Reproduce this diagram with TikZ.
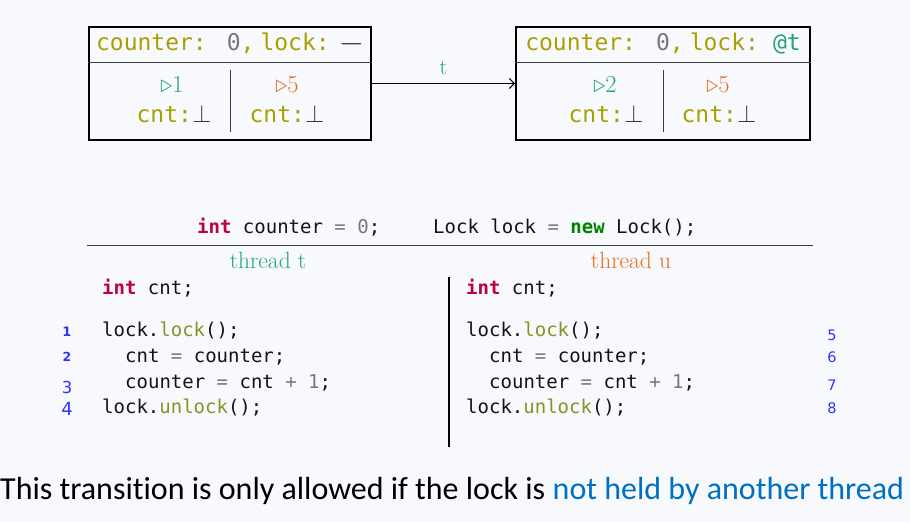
\documentclass[tikz,border=0pt]{standalone}
\usepackage{fontspec}
\setmonofont{DejaVu Sans Mono}
\newfontfamily\notefont[Ligatures=NoCommon]{Carlito}
\newfontfamily\numfont{DejaVu Sans}
\usetikzlibrary{positioning, arrows.meta}

\definecolor{PageBg}{RGB}{247,249,252}
\definecolor{MemText}{RGB}{168,160,0}
\definecolor{ThreadT}{RGB}{38,163,125}
\definecolor{ThreadU}{RGB}{230,110,30}
\definecolor{ValGray}{RGB}{120,120,120}
\definecolor{BotGray}{RGB}{60,60,60}
\definecolor{CodeText}{RGB}{20,20,20}
\definecolor{KeyRed}{RGB}{190,0,70}
\definecolor{KeyGreen}{RGB}{0,130,0}
\definecolor{MethodOlive}{RGB}{130,150,40}
\definecolor{LineBlue}{RGB}{50,50,255}
\definecolor{NoteBlue}{RGB}{0,112,192}

\newcommand{\kw}[1]{\textcolor{KeyRed}{\textbf{#1}}}
\newcommand{\newkw}[1]{\textcolor{KeyGreen}{\textbf{#1}}}
\newcommand{\op}[1]{\textcolor{ValGray}{#1}}
\newcommand{\meth}[1]{\textcolor{MethodOlive}{#1}}
\newcommand{\undef}{\textcolor{BotGray}{\fontsize{28}{30}\selectfont$\bot$}}

\tikzset{
    state box/.style={draw=black, line width=1.6pt, minimum height=113pt, inner sep=0pt},
    part line/.style={draw=BotGray, line width=0.9pt},
    mem text/.style={anchor=base, inner sep=0pt, text=MemText,
        font=\fontsize{23}{27}\selectfont\ttfamily},
    pc text/.style={anchor=base, inner sep=0pt, font=\fontsize{24.5}{28}\selectfont},
    code/.style={anchor=base west, inner sep=0pt, text=CodeText,
        font=\fontsize{19}{23}\selectfont\ttfamily},
    thread head/.style={anchor=base, inner sep=0pt, font=\fontsize{23.5}{27}\selectfont},
    line no/.style={anchor=base, inner sep=0pt, text=LineBlue}
}

\begin{document}
\begin{tikzpicture}[x=1pt, y=-1pt]

% Fondo
\fill[PageBg] (0,0) rectangle (910,522);
\useasboundingbox (0,0) rectangle (910,522);

% Estados
\node[state box, minimum width=282pt] (s0) at (230,83.5) {};
\node[state box, minimum width=294pt] (s1) at (663,83.5) {};

\coordinate (s0 head) at (230,62);
\coordinate (s1 head) at (663,62);
\draw[part line] (s0.west |- s0 head) -- (s0.east |- s0 head);
\draw[part line] (s1.west |- s1 head) -- (s1.east |- s1 head);
\draw[part line] (s0 head) ++(0,8) -- ++(0,62);
\draw[part line] (s1 head) ++(0,8) -- ++(0,62);

% Memoria compartida
\node[mem text] (s0 mem) at (230,50)
    {counter:\hspace{20pt}\textcolor{ValGray}{0},\hspace{6pt}lock:\hspace{9pt}\textcolor{black}{\scalebox{1.3}[1]{$-$}}};
\node[mem text] (s1 mem) at (663,50)
    {counter:\hspace{20pt}\textcolor{ValGray}{0},\hspace{6pt}lock:\hspace{14pt}\textcolor{ThreadT}{@t}};

% Contadores de programa
\node[pc text, text=ThreadT] (s0 pc t) at (172,92) {$\triangleright$1};
\node[pc text, text=ThreadU] (s0 pc u) at (287,92) {$\triangleright$5};
\node[pc text, text=ThreadT] (s1 pc t) at (605,92) {$\triangleright$2};
\node[pc text, text=ThreadU] (s1 pc u) at (718,92) {$\triangleright$5};

% Variables locales
\node[mem text] (s0 cnt t) at (174,122) {cnt:\undef};
\node[mem text] (s0 cnt u) at (287,122) {cnt:\undef};
\node[mem text] (s1 cnt t) at (606,122) {cnt:\undef};
\node[mem text] (s1 cnt u) at (719,122) {cnt:\undef};

% Transicion
\draw[line width=1.2pt, -{Straight Barb[length=5pt, width=10pt]}] (s0) -- (s1)
    node[midway, above=5pt, text=ThreadT, font=\fontsize{22}{26}\selectfont] (step t) {t};

% Declaraciones globales
\node[code] (decl counter) at (197,233) {\kw{int} counter \op{=} \op{0};};
\node[code] (decl lock) at (433,233) {Lock lock \op{=} \newkw{new} Lock();};
\coordinate (rule west) at (87,245.5);
\coordinate (rule east) at (813,245.5);
\draw[line width=1pt, draw=BotGray] (rule west) -- (rule east);

% Hilos
\node[thread head, text=ThreadT] (head t) at (268,268) {thread t};
\node[thread head, text=ThreadU] (head u) at (631,268) {thread u};
\coordinate (sep top) at (449,277);
\coordinate (sep bottom) at (449,447);
\draw[line width=1.2pt] (sep top) -- (sep bottom);

% Codigo del hilo t
\node[code] (t0) at (102,294) {\kw{int} cnt;};
\node[code] (t1) at (102,336.5) {lock.\meth{lock}();};
\node[code] (t2) at (125,362.5) {cnt \op{=} counter;};
\node[code] (t3) at (125,388) {counter \op{=} cnt \op{+} \op{1};};
\node[code] (t4) at (102,413) {lock.\meth{unlock}();};

% Codigo del hilo u
\node[code] (u0) at (466,294) {\kw{int} cnt;};
\node[code] (u1) at (466,336.5) {lock.\meth{lock}();};
\node[code] (u2) at (489,362.5) {cnt \op{=} counter;};
\node[code] (u3) at (489,388) {counter \op{=} cnt \op{+} \op{1};};
\node[code] (u4) at (466,413) {lock.\meth{unlock}();};

% Numeros de linea
\node[line no, font=\numfont\bfseries\fontsize{13}{15}\selectfont] (n1) at (67,336.5) {1};
\node[line no, font=\numfont\bfseries\fontsize{12.5}{15}\selectfont] (n2) at (67,361.5) {2};
\node[line no, font=\numfont\fontsize{16.5}{20}\selectfont] (n3) at (67,393) {3};
\node[line no, font=\numfont\fontsize{18}{22}\selectfont] (n4) at (67,415) {4};
\node[line no, font=\numfont\fontsize{14.5}{17}\selectfont] (n5) at (832,340) {5};
\node[line no, font=\numfont\fontsize{14.5}{17}\selectfont] (n6) at (832,362) {6};
\node[line no, font=\numfont\fontsize{14.5}{17}\selectfont] (n7) at (832,390) {7};
\node[line no, font=\numfont\fontsize{14.5}{17}\selectfont] (n8) at (832,413) {8};

% Nota
\node[anchor=base west, inner sep=0pt, font=\notefont\fontsize{32}{38}\selectfont] (note) at (0,499)
    {This transition is only allowed if the lock is \textcolor{NoteBlue}{not held by another thread}};

\end{tikzpicture}
\end{document}
